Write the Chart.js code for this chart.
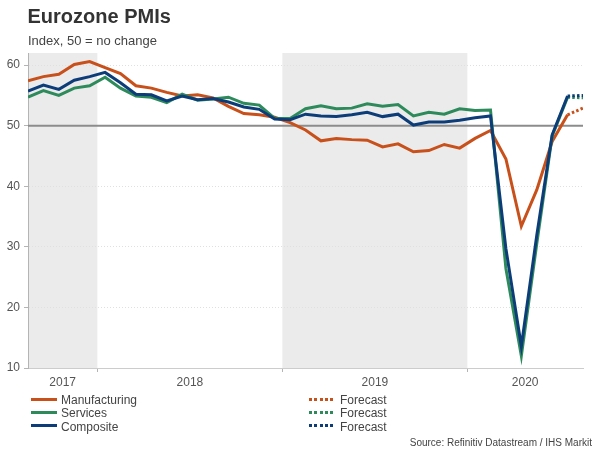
<!DOCTYPE html>
<html><head><meta charset="utf-8">
<script src="https://cdn.jsdelivr.net/npm/chart.js@4.4.0/dist/chart.umd.min.js"></script>
<style>
html,body{margin:0;padding:0;background:#fff;}
#wrap{position:relative;width:600px;height:450px;font-family:"Liberation Sans",Arial,sans-serif;overflow:hidden;}
#c{position:absolute;left:0;top:0;}
.t{position:absolute;white-space:nowrap;line-height:1;}
.sw{position:absolute;height:3px;width:26px;}
</style></head>
<body>
<div id="wrap">
<canvas id="c" width="600" height="450"></canvas>
<div class="t" style="left:27.5px;top:5.6px;font-size:20px;font-weight:bold;color:#333">Eurozone PMIs</div>
<div class="t" style="left:28px;top:33.5px;font-size:13px;color:#444">Index, 50 = no change</div>
<div id="legend"></div>
<div class="t" style="right:8px;top:437.5px;font-size:10px;color:#444">Source: Refinitiv Datastream / IHS Markit</div>
</div>
<script>
// Months: index 0 = Aug 2017 ... index 36 = Aug 2020
const months = ['2017-08','2017-09','2017-10','2017-11','2017-12',
 '2018-01','2018-02','2018-03','2018-04','2018-05','2018-06','2018-07','2018-08','2018-09','2018-10','2018-11','2018-12',
 '2019-01','2019-02','2019-03','2019-04','2019-05','2019-06','2019-07','2019-08','2019-09','2019-10','2019-11','2019-12',
 '2020-01','2020-02','2020-03','2020-04','2020-05','2020-06','2020-07','2020-08'];

const manufacturing = [57.4,58.1,58.5,60.1,60.6,
 59.6,58.6,56.6,56.2,55.5,54.9,55.1,54.6,53.2,52.0,51.8,51.4,
 50.5,49.3,47.5,47.9,47.7,47.6,46.5,47.0,45.7,45.9,46.9,46.3,
 47.9,49.2,44.5,33.4,39.4,47.4,51.8,null];
const services = [54.7,55.8,55.0,56.2,56.6,
 58.0,56.2,54.9,54.7,53.8,55.2,54.2,54.4,54.7,53.7,53.4,51.2,
 51.2,52.8,53.3,52.8,52.9,53.6,53.2,53.5,51.6,52.2,51.9,52.8,
 52.5,52.6,26.4,12.0,30.5,48.3,54.7,null];
const composite = [55.7,56.7,56.0,57.5,58.1,
 58.8,57.1,55.2,55.1,54.1,54.9,54.3,54.5,53.9,53.1,52.7,51.1,
 51.0,51.9,51.6,51.5,51.8,52.2,51.5,51.9,50.1,50.6,50.6,50.9,
 51.3,51.6,29.7,13.6,31.9,48.5,54.9,null];

// Forecast segments (Jul 2020 actual -> Aug 2020 forecast)
const manufacturingForecast = {'2020-07':51.8,'2020-08':52.9};
const servicesForecast = {'2020-07':54.7,'2020-08':54.6};
const compositeForecast = {'2020-07':54.9,'2020-08':55.0};

const seriesNames = ['Manufacturing','Services','Composite'];
const forecastName = 'Forecast';
const yearLabels = ['2017','2018','2019','2020'];
const yTicks = [10,20,30,40,50,60];
const refValue = 50;
const shadedYears = ['2017','2019'];

const colors = ['#c8501a','#2d8a5b','#0c3d78'];

// Year boundaries (between Dec and Jan) in month-index units
const yearBounds = [];
for (let i = 1; i < months.length; i++) {
  if (months[i].slice(0,4) !== months[i-1].slice(0,4)) yearBounds.push(i - 0.5);
}
const xMin = 0, xMax = months.length - 1;
const yearEdges = [xMin, ...yearBounds, xMax];
const yearMids = yearLabels.map((_, k) => (yearEdges[k] + yearEdges[k+1]) / 2);

const toPts = arr => arr.map((v,i) => ({x:i, y:v})).filter(p => p.y !== null);
const fcPts = obj => Object.keys(obj).map(m => ({x: months.indexOf(m), y: obj[m]}));

const actual = [manufacturing, services, composite];
const forecasts = [manufacturingForecast, servicesForecast, compositeForecast];

const datasets = [];
actual.forEach((arr, k) => {
  datasets.push({label: seriesNames[k], data: toPts(arr), borderColor: colors[k], borderWidth: 3,
    pointRadius: 0, tension: 0, fill: false, order: 2 - k});
  datasets.push({label: forecastName, data: fcPts(forecasts[k]), borderColor: colors[k], borderWidth: 3,
    borderDash: [2.5, 2.2], pointRadius: 0, tension: 0, fill: false, order: 2 - k});
});

// HTML legend
(function(){
  const lg = document.getElementById('legend');
  const rowsCenter = [399.5, 412.7, 425.8];
  seriesNames.forEach((name, k) => {
    const c = rowsCenter[k];
    lg.insertAdjacentHTML('beforeend',
      `<div class="sw" style="left:31px;top:${c-1.5}px;background:${colors[k]}"></div>` +
      `<div class="t" style="left:61px;top:${c-5.3}px;font-size:12px;color:#444">${name}</div>` +
      `<div class="sw" style="left:309px;top:${c-1.5}px;background:repeating-linear-gradient(to right, ${colors[k]} 0 3px, transparent 3px 5.3px)"></div>` +
      `<div class="t" style="left:340px;top:${c-5.3}px;font-size:12px;color:#444">${forecastName}</div>`);
  });
})();

const bgPlugin = {
  id: 'bgPlugin',
  beforeDraw(chart) {
    const {ctx, chartArea: a, scales: {x}} = chart;
    ctx.save();
    ctx.fillStyle = '#ebebeb';
    shadedYears.forEach(yr => {
      const k = yearLabels.indexOf(yr);
      const x0 = x.getPixelForValue(yearEdges[k]);
      const x1 = x.getPixelForValue(yearEdges[k+1]);
      ctx.fillRect(x0, a.top, x1 - x0, a.bottom - a.top);
    });
    ctx.restore();
  },
  beforeDatasetsDraw(chart) {
    const {ctx, chartArea: a, scales: {y}} = chart;
    const yy = y.getPixelForValue(refValue);
    ctx.save();
    ctx.strokeStyle = '#8c8c8c';
    ctx.lineWidth = 2;
    ctx.beginPath();
    ctx.moveTo(a.left, yy);
    ctx.lineTo(a.right, yy);
    ctx.stroke();
    ctx.restore();
  }
};

Chart.defaults.font.family = '"Liberation Sans", Arial, sans-serif';
Chart.defaults.font.size = 12;
Chart.defaults.color = '#555';

new Chart(document.getElementById('c'), {
  type: 'line',
  data: {datasets},
  plugins: [bgPlugin],
  options: {
    responsive: false,
    animation: false,
    devicePixelRatio: 1,
    layout: {padding: {top: 53, right: 17, bottom: 52, left: 0}},
    plugins: {legend: {display: false}, tooltip: {enabled: false}, title: {display: false}},
    scales: {
      x: {
        type: 'linear', min: xMin, max: xMax,
        afterFit(s) { s.height = 30; },
        afterBuildTicks(s) {
          const vals = [...yearMids, ...yearBounds].sort((a,b)=>a-b);
          s.ticks = vals.map(v => ({value: v}));
        },
        ticks: {
          autoSkip: false, maxRotation: 0, padding: 3, color: '#555', font: {size: 12},
          callback(v) { const k = yearMids.indexOf(v); return k >= 0 ? yearLabels[k] : ''; }
        },
        grid: {
          drawOnChartArea: false, drawTicks: true, tickLength: 4, lineWidth: 1,
          tickColor: ctx => (ctx.tick && yearBounds.includes(ctx.tick.value)) ? '#b4b4b4' : 'rgba(0,0,0,0)'
        },
        border: {display: true, color: '#cccccc', width: 1}
      },
      y: {
        type: 'linear', min: 10, max: 62,
        afterFit(s) { s.width = 28; },
        afterBuildTicks(s) { s.ticks = yTicks.map(v => ({value: v})); },
        ticks: {padding: 4, color: '#555', font: {size: 12}},
        grid: {
          drawTicks: true, tickLength: 4, lineWidth: 1,
          color: ctx => (ctx.tick && (ctx.tick.value === refValue || ctx.tick.value === 10)) ? 'rgba(0,0,0,0)' : '#e0e0e0',
          tickColor: '#b4b4b4'
        },
        border: {display: true, color: '#b4b4b4', width: 1, dash: [1, 2]}
      }
    }
  }
});
</script>
</body></html>
